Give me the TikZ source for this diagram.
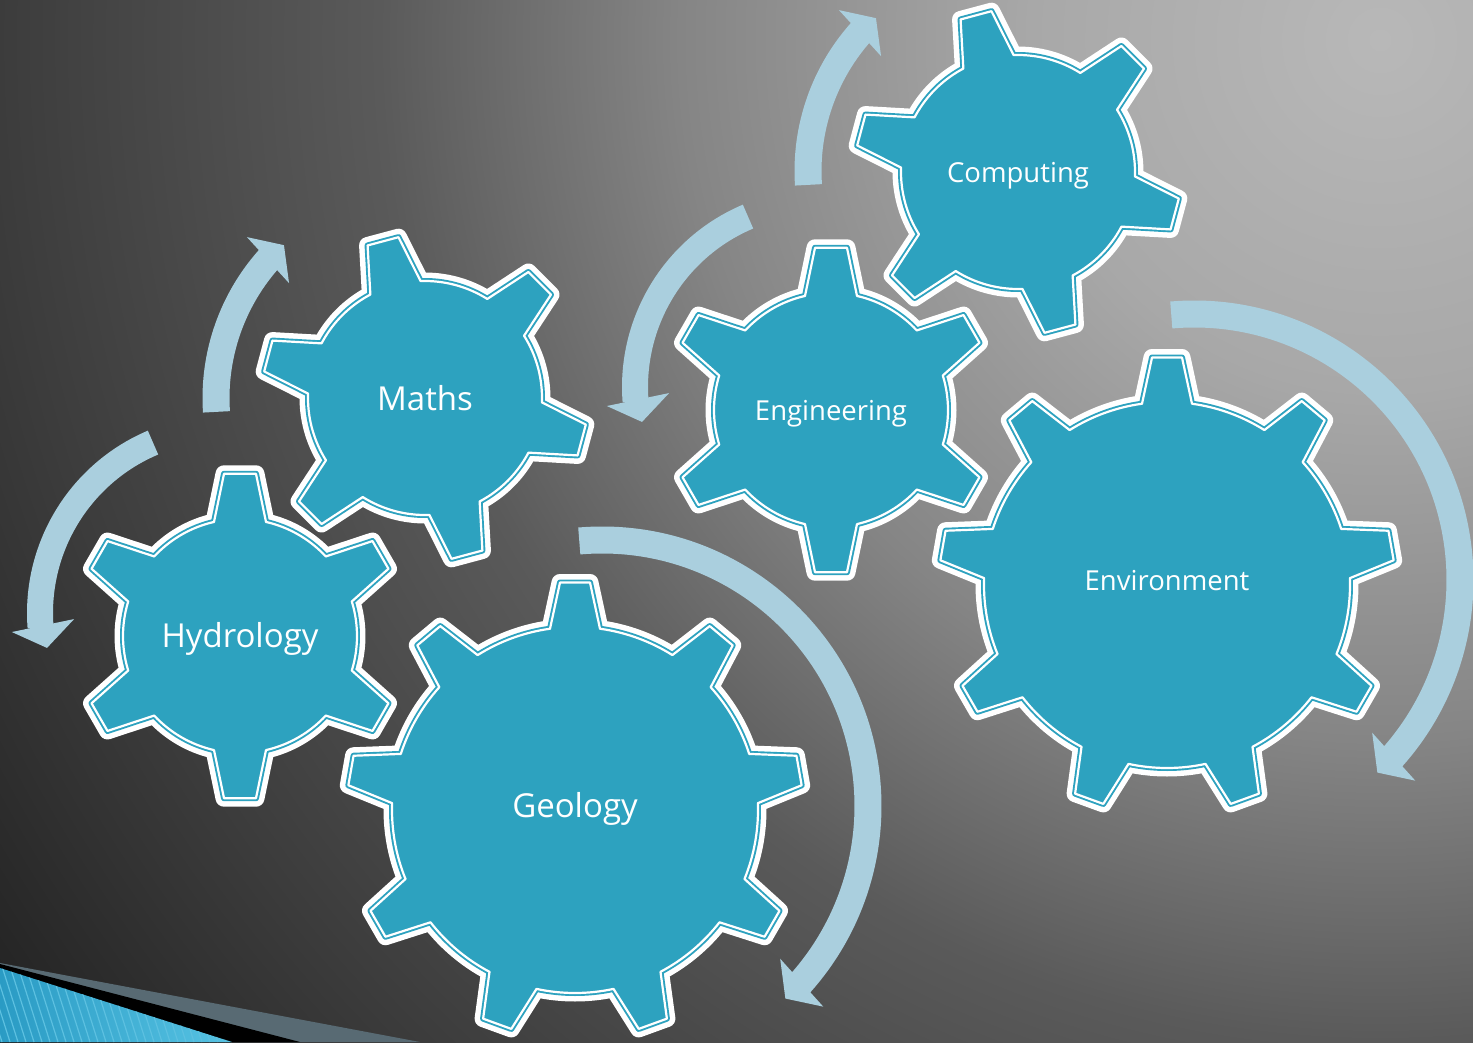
\documentclass[tikz,border=0pt]{standalone}
\usepackage{fontspec}
\setmainfont{Open Sans}
\definecolor{gearteal}{HTML}{2DA2BF}
\definecolor{arrowblue}{HTML}{AACFDE}
\definecolor{bgA}{HTML}{B8B8B8}
\definecolor{bgB}{HTML}{A8A8A8}
\definecolor{bgC}{HTML}{858585}
\definecolor{bgD}{HTML}{5A5A5A}
\definecolor{bgE}{HTML}{3C3C3C}
\definecolor{bgF}{HTML}{1E1E1E}
\definecolor{bandgray}{HTML}{586A73}
\definecolor{stripeL}{HTML}{2A9BC4}
\definecolor{stripeR}{HTML}{58C4E4}
\definecolor{stripeLine}{HTML}{5CC0E0}
\pgfdeclareradialshading{bgrad}{\pgfpoint{0bp}{0bp}}{color(0bp)=(bgA); color(4.86bp)=(bgB); color(9.72bp)=(bgC); color(13.9bp)=(bgD); color(19.2bp)=(bgE); color(24.3bp)=(bgF); color(50bp)=(bgF)}
\tikzset{
  gearbody/.style={preaction={draw=white, line width=17pt, line join=round},
    fill=gearteal,
    postaction={draw=gearteal, line width=6pt, line join=round},
    postaction={draw=white, line width=2.2pt, line join=round}},
  arrowband/.style={draw=arrowblue, line width=26pt},
  arrowtip/.style={fill=arrowblue},
  gtext/.style={text=white, anchor=base, inner sep=0pt},
  bigtext/.style={gtext, font=\fontsize{33}{39}\selectfont},
  smalltext/.style={gtext, font=\fontsize{27.5}{33}\selectfont}
}
% #1 cx, #2 cy, #3 teeth, #4 first tooth angle, #5 body radius, #6 tip radius, #7 base half-angle, #8 tip half-angle
\newcommand\drawgear[8]{%
  \begin{scope}[shift={(#1,#2)}]
    \pgfmathsetmacro\gstep{360/#3}
    \pgfmathtruncatemacro\glast{#3-1}
    \path[gearbody] ({#4-\gstep+#7}:#5)
      \foreach \k in {0,...,\glast}{
        arc[start angle={#4+(\k-1)*\gstep+#7}, end angle={#4+\k*\gstep-#7}, radius=#5]
        -- ({#4+\k*\gstep-#8}:#6) -- ({#4+\k*\gstep+#8}:#6) -- ({#4+\k*\gstep+#7}:#5)
      } -- cycle;
  \end{scope}}
% arrow types
\newcommand\arrowD[2]{%
  \begin{scope}[shift={(#1,#2)}]
    \draw[arrowband] (247.1:185) arc[start angle=247.1, end angle=175.5, radius=185];
    \fill[arrowtip] (174.9:214) -- (168.9:181.4) -- (177.7:151) -- cycle;
  \end{scope}}
\newcommand\arrowU[2]{%
  \begin{scope}[shift={(#1,#2)}]
    \draw[arrowband, line width=27pt] (176.2:209) arc[start angle=176.2, end angle=222.5, radius=209];
    \fill[arrowtip] (222.1:240) -- (227.3:208) -- (220.2:178) -- cycle;
  \end{scope}}
\newcommand\arrowR[2]{%
  \begin{scope}[shift={(#1,#2)}]
    \draw[arrowband, line width=27pt] (265.1:266) arc[start angle=265.1, end angle=402.6, radius=266];
    \fill[arrowtip] (40.6:234.7) -- (46.4:265.9) -- (42.2:298.7) -- cycle;
  \end{scope}}
\begin{document}
\begin{tikzpicture}[x=1pt, y=-1pt]
  \useasboundingbox (0,0) rectangle (1473,1042);
  \begin{scope}
    \clip (0,0) rectangle (1473,1042);
    \shade[shading=bgrad] (1380,40) circle (1800);
    % bottom-left decoration
    \fill[bandgray] (0,963) -- (420,1042) -- (0,1042) -- cycle;
    \fill[black] (0,964) -- (300,1042) -- (0,1042) -- cycle;
    \begin{scope}
      \clip (0,968) -- (232,1042) -- (0,1042) -- cycle;
      \shade[left color=stripeL, right color=stripeR] (0,960) rectangle (240,1042);
      \foreach \x in {-120,-112,...,240} \draw[stripeLine, line width=1.2pt] (\x,960) -- (\x+26,1042);
    \end{scope}
    % circular arrows
    \arrowD{225}{613}
    \arrowU{425}{398}
    \arrowD{820}{387}
    \arrowU{1017}{171}
    \arrowR{1194}{580}
    \arrowR{602}{806}
    % gears
    \drawgear{240}{636}{6}{30}{117}{163}{12.84}{5.63}
    \drawgear{425}{398}{6}{15}{117}{163}{12.84}{5.63}
    \drawgear{831}{410}{6}{30}{117}{163}{12.84}{5.63}
    \drawgear{1018}{172}{6}{15}{117}{163}{12.84}{5.63}
    \drawgear{575}{810}{9}{30}{183}{228}{7.85}{3.77}
    \drawgear{1167}{585}{9}{30}{183}{228}{7.85}{3.77}
    % labels
    \node[bigtext] (hyd) at (240,647) {Hydrology};
    \node[bigtext] (mat) at (425,410) {Maths};
    \node[bigtext] (geo) at (575,817) {Geology};
    \node[smalltext] (eng) at (831,420) {Engineering};
    \node[smalltext] (com) at (1018,182) {Computing};
    \node[smalltext] (env) at (1167,590) {Environment};
  \end{scope}
\end{tikzpicture}
\end{document}
